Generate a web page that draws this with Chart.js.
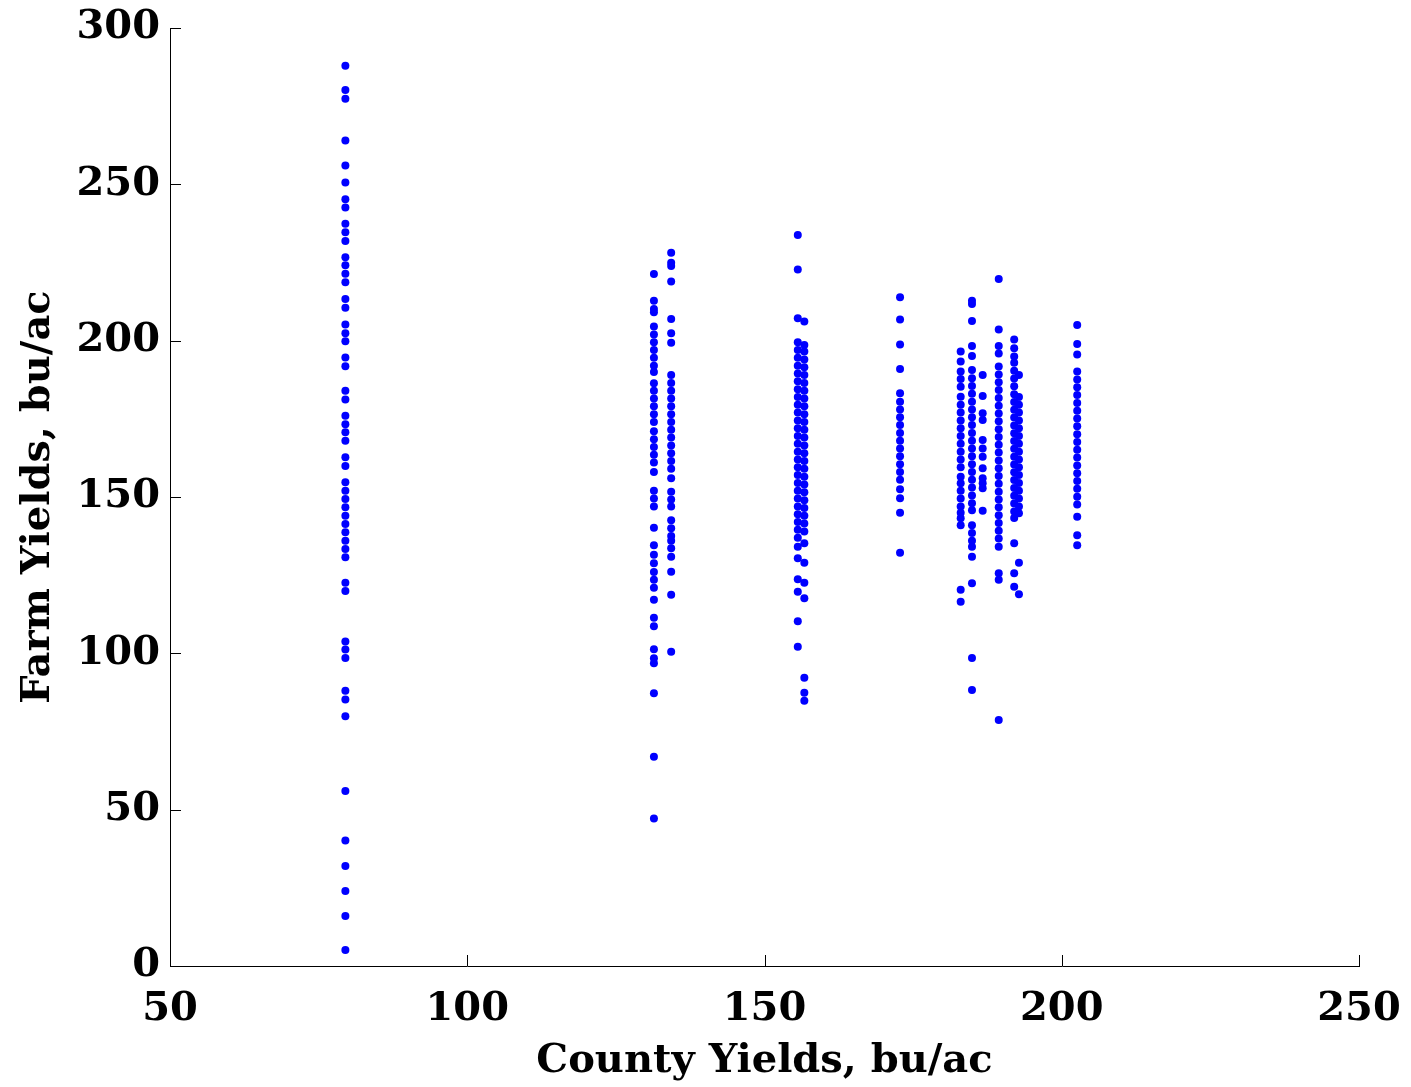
<!DOCTYPE html>
<html>
<head>
<meta charset="utf-8">
<script src="https://cdn.jsdelivr.net/npm/chart.js@4.4.1/dist/chart.umd.min.js"></script>
<style>
  html,body{margin:0;padding:0;background:#fff;}
  #wrap{width:1411px;height:1087px;position:relative;}
</style>
</head>
<body>
<div id="wrap"><canvas id="c"></canvas></div>
<script>
// county yield (x) for each vertical strip, and farm yields (y)
const countyX = [79.5, 131.4, 134.3, 155.6, 156.7, 172.8, 183.0, 184.9, 186.7, 189.4, 192.0, 192.8, 202.6];
const farm79 = [287.9,280.2,277.4,264.0,256.0,250.6,245.2,242.6,237.4,234.7,231.9,226.7,224.1,221.4,218.7,213.3,210.5,205.2,202.4,199.8,194.6,191.8,184.0,181.2,176.0,173.3,170.7,168.0,162.7,159.9,154.7,152.0,149.4,146.7,144.0,141.4,138.7,136.0,133.4,130.7,122.6,119.9,103.8,101.2,98.5,88.0,85.2,79.9,56.0,40.1,32.0,24.0,16.0,5.1];
const farm131 = [221.3,212.8,210.1,209.1,204.5,202,199.5,197,194.5,192,190,186.4,184,181.5,179,176.5,174,171,168.5,166,163.5,161,158,152,149.5,147,140.2,134.6,131.5,128.8,126,123.5,121,117.1,111.4,108.7,101.3,98.4,96.8,87.2,66.9,47.2];
const farm134 = [228.1,224.9,223.9,218.9,206.9,202.4,199.3,189,186.5,184,181.5,179,176.5,174,171.5,169,166.5,164,161.5,159,156,151.7,149.2,147,142.6,140,137.5,136,133.6,130.9,126.1,118.7,100.5];
const farm155 = [233.8,222.8,207.2,199.5,197,194.5,192,189.5,187,184.5,182,179.5,177,174.5,172,169.5,167,164.5,162,159.5,157,154.5,152,149.5,147,144.5,142,139.5,137,134.1,130.4,123.7,119.7,110.3,102.1];
const farm156 = [206.1,198.6,196.5,194,191.5,189,186.5,184,181.5,179,176.5,174,171.5,169,166.5,164,161.5,159,156.5,154,151.5,149,146.5,144,141.5,139,135.2,129,122.6,117.6,92.2,87.4,84.8];
const farm172 = [213.9,206.8,198.8,190.9,183.2,180.5,178,175.5,173,170.5,168,165.5,163,160.5,158,155.5,152.5,149.6,145,132.2];
const farm183 = [196.5,193.3,190.1,187.7,185.3,182.1,179.5,177,174.5,172,169.5,167,164.5,162,159.5,156.5,154.4,152,149.5,147,145,143.2,141.0,120.3,116.5];
const farm185 = [212.8,211.7,206.3,198.3,195.1,190.6,188,185.5,183,180.5,178,175.5,173,170.5,168,165.5,163,160.5,158,155.5,153,150.5,148,145.8,141,138.5,136,134.1,130.9,122.4,98.5,88.3];
const farm187 = [189.0,182.3,176.8,174.6,168.2,165.5,162.9,159.2,156,154.4,152.8,145.6];
const farm189 = [219.7,203.6,198.3,195.9,191.7,189.2,186.7,184.2,181.7,179.2,176.7,174.2,171.7,169.2,166.7,164.2,161.7,159.2,156.7,154.2,151.7,149.2,146.7,144.2,141.7,139.2,136.7,134.1,125.6,123.5,78.7];
const farm192 = [200.4,197.6,194.9,192.9,190.4,187.9,185.4,182.9,180.4,177.9,175.4,172.9,170.4,167.9,165.4,162.9,160.4,157.9,155.4,152.9,150.4,147.9,145.4,143.3,135.2,125.6,121.3];
const farm193 = [189,182,179.5,177,174.5,172,169.5,167,164.5,162,159.5,157,154.5,152,149.5,147,144.8,129,118.9];
const farm203 = [205,198.9,195.6,190.1,187.6,185.1,182.6,180.1,177.6,175.1,172.6,170.1,167.6,165.1,162.6,160.1,157.6,155.1,152.6,150.1,147.6,143.7,137.8,134.6];
const xTicks = [50, 100, 150, 200, 250];
const yTicks = [0, 50, 100, 150, 200, 250, 300];

const farmStrips = [farm79, farm131, farm134, farm155, farm156, farm172, farm183, farm185, farm187, farm189, farm192, farm193, farm203];
const points = countyX.flatMap((x, i) => farmStrips[i].map(y => ({x, y})));

const FONT = {family: "'DejaVu Serif', 'Liberation Serif', serif", weight: "bold", size: 40};

// ticks point inward from the axis lines, matlab style
const innerTicks = {
  id: "innerTicks",
  afterDraw(chart){
    const {ctx, scales:{x, y}} = chart;
    ctx.save();
    ctx.strokeStyle = "#000"; ctx.lineWidth = 1;
    ctx.beginPath();
    yTicks.forEach(v => { const p = Math.round(y.getPixelForValue(v)) + .5; ctx.moveTo(x.left, p); ctx.lineTo(x.left + 11, p); });
    xTicks.forEach(v => { const p = Math.round(x.getPixelForValue(v)) + .5; ctx.moveTo(p, y.bottom); ctx.lineTo(p, y.bottom - 11); });
    ctx.stroke();
    ctx.restore();
  }
};

new Chart(document.getElementById("c"), {
  type: "scatter",
  data: {datasets: [{data: points, backgroundColor: "#0000ff", borderWidth: 0, pointRadius: 4, pointHoverRadius: 4}]},
  options: {
    responsive: true, maintainAspectRatio: false, animation: false,
    layout: {padding: {top: 28, right: 52, left: 0, bottom: 0}},
    plugins: {legend: {display: false}, tooltip: {enabled: false}},
    scales: {
      x: {
        type: "linear", min: 50, max: 250,
        afterBuildTicks: s => { s.ticks = xTicks.map(v => ({value: v})); },
        afterFit: s => { s.height = 121; s.paddingLeft = 0; s.paddingRight = 0; },
        grid: {display: false, drawTicks: false},
        border: {display: true, color: "#000", width: 1},
        ticks: {color: "#000", font: FONT, padding: 20, maxRotation: 0},
        title: {display: true, text: "County Yields, bu/ac", color: "#000", font: FONT, padding: 1}
      },
      y: {
        type: "linear", min: 0, max: 300,
        afterBuildTicks: s => { s.ticks = yTicks.map(v => ({value: v})); },
        afterFit: s => { s.width = 170; s.paddingTop = 0; s.paddingBottom = 0; },
        grid: {display: false, drawTicks: false},
        border: {display: true, color: "#000", width: 1},
        ticks: {color: "#000", font: FONT, padding: 10},
        title: {display: true, text: "Farm Yields, bu/ac", color: "#000", font: FONT, padding: 15}
      }
    }
  },
  plugins: [innerTicks]
});
</script>
</body>
</html>
